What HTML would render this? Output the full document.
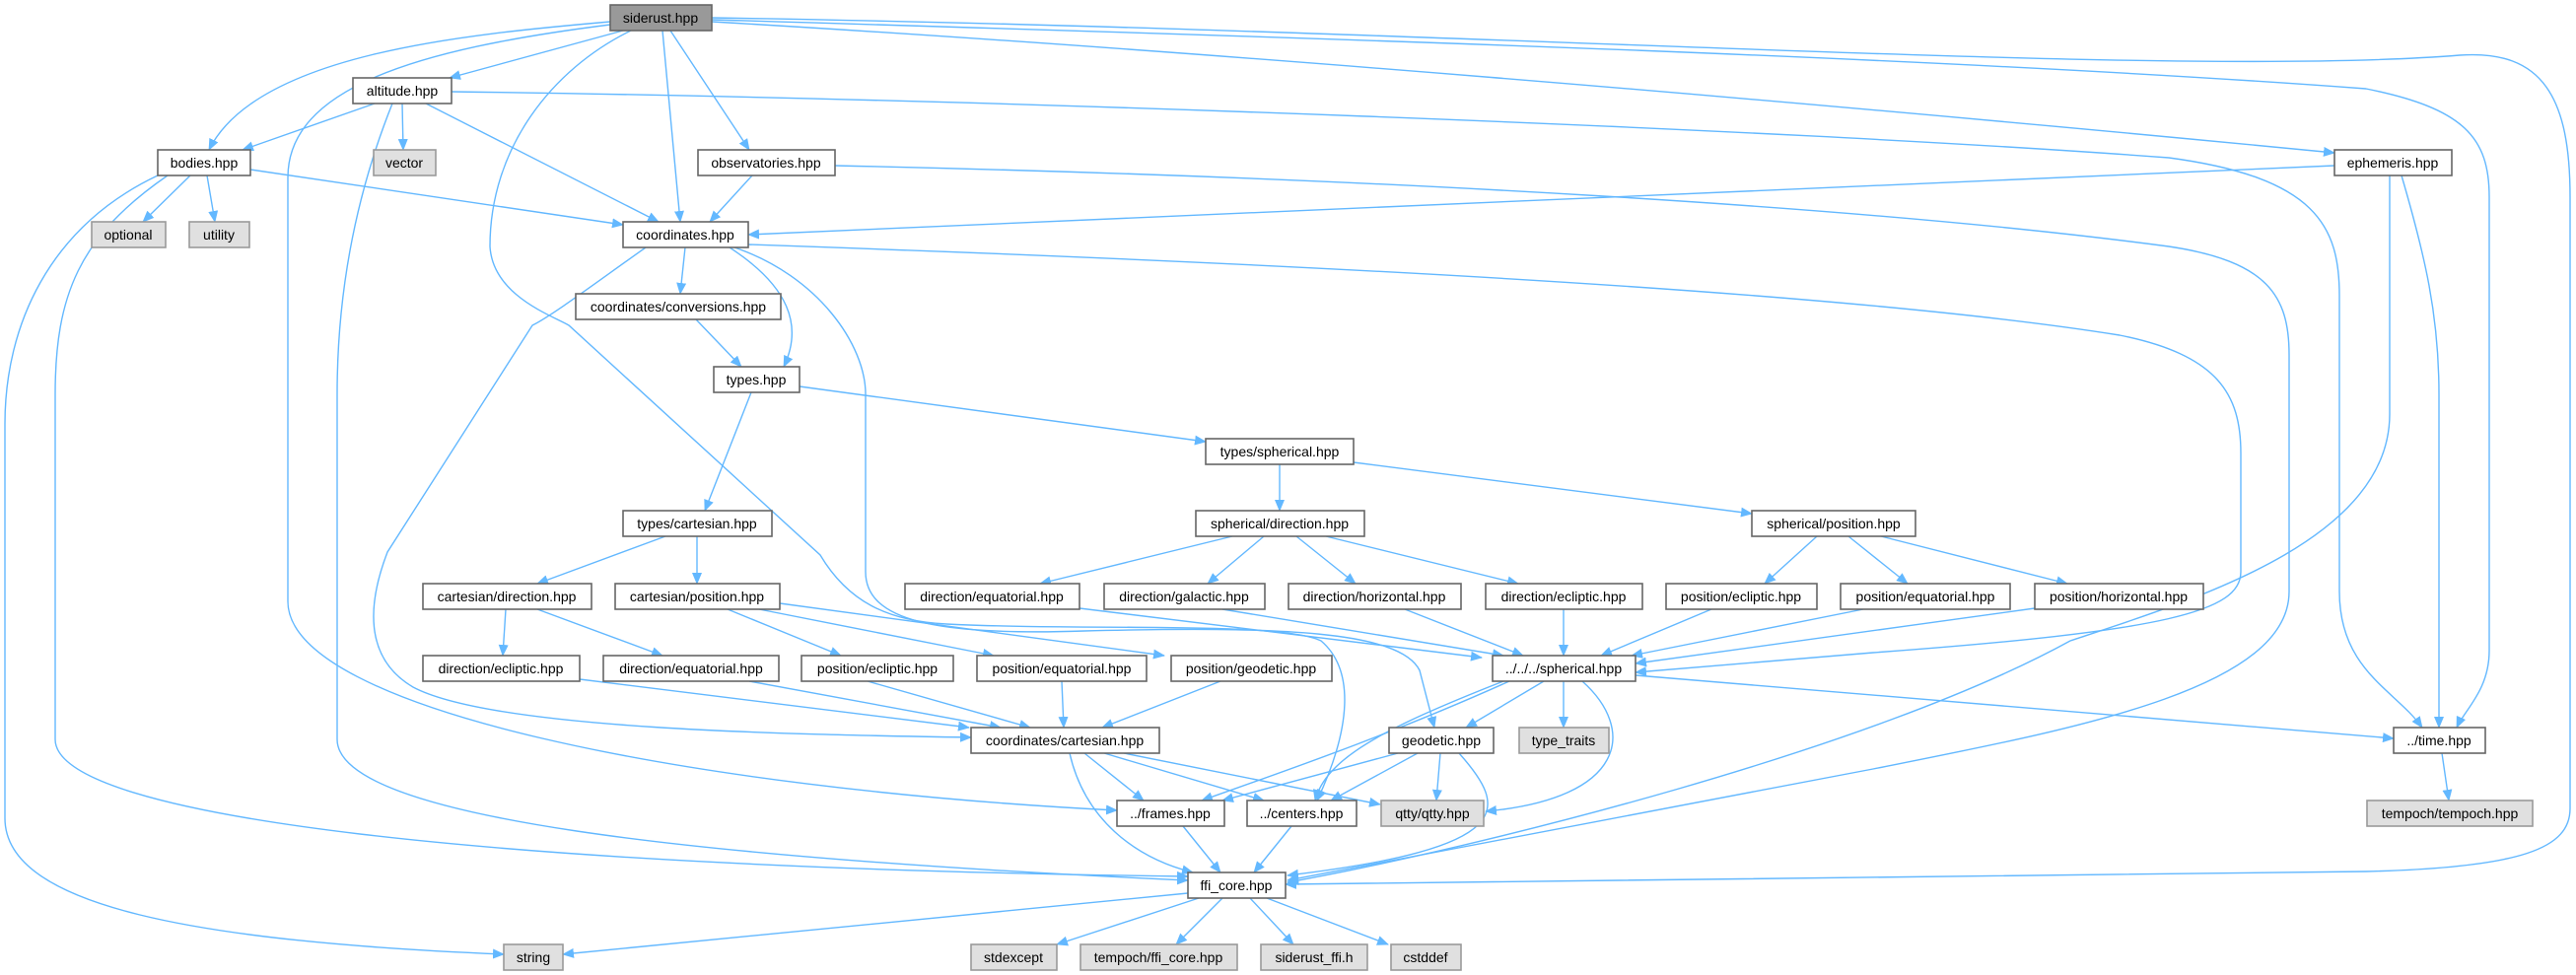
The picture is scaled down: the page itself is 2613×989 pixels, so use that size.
<!DOCTYPE html>
<html><head><meta charset="utf-8"><style>
html,body{margin:0;padding:0;background:#fff;}
svg{display:block;}
text{font-family:"Liberation Sans",sans-serif;font-size:14px;fill:#000;text-anchor:middle;}
.e{fill:none;stroke:#63b8ff;stroke-width:1.4;marker-end:url(#ar);}
.n{fill:#fff;stroke:#666;stroke-width:1.6;}
.g{fill:#e0e0e0;stroke:#999;stroke-width:1.6;}
</style></head><body>
<svg width="2613" height="989" viewBox="0 0 2613 989" xmlns="http://www.w3.org/2000/svg">
<defs><marker id="ar" markerUnits="userSpaceOnUse" markerWidth="12" markerHeight="10" refX="11" refY="5" orient="auto"><path d="M0,0 L12,5 L0,10 z" fill="#63b8ff"/></marker></defs>
<g>
<!-- siderust -->
<path class="e" d="M619,22 C470,35 260,55 212,152"/>
<path class="e" d="M632,31 L456,79"/>
<path class="e" d="M672,31 L690,225"/>
<path class="e" d="M680,31 L760,152"/>
<path class="e" d="M619,25 C420,50 292,90 292,180 L292,610 C292,720 700,800 1133,822"/>
<path class="e" d="M640,31 C560,70 497,150 497,250 C500,300 560,320 577,330 L832,563 C860,610 900,630 960,633 C1100,640 1300,630 1340,650 C1375,680 1370,740 1336,812"/>
<path class="e" d="M722,22 C1200,50 1800,100 2368,155"/>
<path class="e" d="M722,20 C1400,40 2000,60 2400,90 C2500,110 2525,140 2525,200 L2525,660 C2525,700 2500,720 2492,738"/>
<path class="e" d="M722,18 C1500,30 2200,80 2495,56 C2580,50 2607,100 2607,200 L2607,820 C2607,860 2560,880 2400,884 L1304,897"/>
<!-- altitude -->
<path class="e" d="M380,105 L246,152"/>
<path class="e" d="M408,105 L409,152"/>
<path class="e" d="M432,105 L668,225"/>
<path class="e" d="M398,105 C360,200 342,300 342,400 L342,750 C342,830 700,870 1205,893"/>
<path class="e" d="M458,93 C1000,100 1800,130 2200,160 C2350,180 2373,230 2373,300 L2373,600 C2373,680 2430,700 2457,738"/>
<!-- bodies -->
<path class="e" d="M254,172 L632,228"/>
<path class="e" d="M193,178 L145,225"/>
<path class="e" d="M210,178 L218,225"/>
<path class="e" d="M160,178 C50,230 5,330 5,430 L5,830 C5,920 200,955 511,968"/>
<path class="e" d="M170,178 C80,240 56,300 56,400 L56,750 C56,830 500,880 1205,889"/>
<!-- observatories -->
<path class="e" d="M763,178 L720,225"/>
<path class="e" d="M847,168 C1400,180 1900,210 2200,250 C2300,265 2322,300 2322,360 L2322,600 C2322,700 2100,740 1900,780 L1306,893"/>
<!-- ephemeris -->
<path class="e" d="M2368,168 L759,238"/>
<path class="e" d="M2436,178 C2460,260 2474,320 2474,400 L2474,738"/>
<path class="e" d="M2424,178 L2424,420 C2424,550 2220,610 2100,650 C1900,760 1500,860 1306,895"/>
<!-- coordinates -->
<path class="e" d="M695,251 L690,298"/>
<path class="e" d="M740,251 C800,290 815,330 795,372"/>
<path class="e" d="M655,251 C600,290 560,320 540,330 L393,560 C370,620 373,670 419,697 C500,740 800,745 985,748"/>
<path class="e" d="M745,251 C830,280 878,350 878,400 L878,580 C878,630 950,645 1100,640 C1300,635 1420,640 1440,680 L1455,738"/>
<path class="e" d="M759,248 C1400,270 1900,300 2150,340 C2250,360 2273,400 2273,460 L2273,580 C2273,620 2200,640 1900,662 L1659,682"/>
<!-- middle tree -->
<path class="e" d="M706,324 L752,372"/>
<path class="e" d="M762,398 L715,518"/>
<path class="e" d="M811,392 L1223,448"/>
<path class="e" d="M1298,471 L1298,518"/>
<path class="e" d="M1373,469 L1777,521"/>
<path class="e" d="M1250,544 L1055,592"/>
<path class="e" d="M1282,544 L1225,592"/>
<path class="e" d="M1315,544 L1375,592"/>
<path class="e" d="M1345,544 L1540,592"/>
<path class="e" d="M1843,544 L1790,592"/>
<path class="e" d="M1875,544 L1935,592"/>
<path class="e" d="M1908,544 L2097,592"/>
<path class="e" d="M675,544 L545,592"/>
<path class="e" d="M707,544 L707,592"/>
<path class="e" d="M513,618 L510,665"/>
<path class="e" d="M545,618 L672,665"/>
<path class="e" d="M738,618 L853,665"/>
<path class="e" d="M770,618 L1008,665"/>
<path class="e" d="M791,612 L1181,665"/>
<path class="e" d="M1095,617 L1503,667"/>
<path class="e" d="M1240,618 L1525,665"/>
<path class="e" d="M1425,618 L1545,665"/>
<path class="e" d="M1586,618 L1586,665"/>
<path class="e" d="M1736,618 L1624,665"/>
<path class="e" d="M1890,618 L1655,665"/>
<path class="e" d="M2064,617 L1659,673"/>
<path class="e" d="M588,689 L983,738"/>
<path class="e" d="M760,691 L1015,738"/>
<path class="e" d="M880,691 L1045,738"/>
<path class="e" d="M1077,691 L1079,738"/>
<path class="e" d="M1238,691 L1118,738"/>
<!-- spherical.hpp -->
<path class="e" d="M1531,691 C1400,750 1280,790 1219,812"/>
<path class="e" d="M1525,691 C1400,740 1345,770 1334,812"/>
<path class="e" d="M1566,691 L1487,738"/>
<path class="e" d="M1586,691 L1586,738"/>
<path class="e" d="M1605,691 C1660,740 1650,810 1507,823"/>
<path class="e" d="M1659,685 L2428,749"/>
<!-- coordinates/cartesian, geodetic -->
<path class="e" d="M1100,764 L1160,812"/>
<path class="e" d="M1120,764 L1282,812"/>
<path class="e" d="M1140,764 L1400,816"/>
<path class="e" d="M1085,764 C1100,830 1150,870 1210,885"/>
<path class="e" d="M1418,764 L1240,812"/>
<path class="e" d="M1438,764 L1350,812"/>
<path class="e" d="M1461,764 L1457,812"/>
<path class="e" d="M1480,764 C1530,820 1540,860 1306,888"/>
<path class="e" d="M1200,838 L1238,885"/>
<path class="e" d="M1310,838 L1272,885"/>
<!-- ffi_core -->
<path class="e" d="M1205,906 L571,968"/>
<path class="e" d="M1216,911 L1072,958"/>
<path class="e" d="M1240,911 L1193,958"/>
<path class="e" d="M1268,911 L1312,958"/>
<path class="e" d="M1285,911 L1408,958"/>
<path class="e" d="M2477,764 L2484,812"/>
</g>
<g>
<rect x="619" y="5" width="103" height="26" fill="#999" stroke="#666" stroke-width="1.6"/><text x="670" y="23">siderust.hpp</text>
<rect class="n" x="358" y="79" width="100" height="26"/><text x="408" y="97">altitude.hpp</text>
<rect class="n" x="160" y="152" width="94" height="26"/><text x="207" y="170">bodies.hpp</text>
<rect class="g" x="379" y="152" width="63" height="26"/><text x="410" y="170">vector</text>
<rect class="n" x="708" y="152" width="139" height="26"/><text x="777" y="170">observatories.hpp</text>
<rect class="n" x="2368" y="152" width="119" height="26"/><text x="2427" y="170">ephemeris.hpp</text>
<rect class="g" x="93" y="225" width="75" height="26"/><text x="130" y="243">optional</text>
<rect class="g" x="192" y="225" width="61" height="26"/><text x="222" y="243">utility</text>
<rect class="n" x="632" y="225" width="127" height="26"/><text x="695" y="243">coordinates.hpp</text>
<rect class="n" x="584" y="298" width="208" height="26"/><text x="688" y="316">coordinates/conversions.hpp</text>
<rect class="n" x="724" y="372" width="87" height="26"/><text x="767" y="390">types.hpp</text>
<rect class="n" x="1223" y="445" width="150" height="26"/><text x="1298" y="463">types/spherical.hpp</text>
<rect class="n" x="632" y="518" width="151" height="26"/><text x="707" y="536">types/cartesian.hpp</text>
<rect class="n" x="1213" y="518" width="171" height="26"/><text x="1298" y="536">spherical/direction.hpp</text>
<rect class="n" x="1777" y="518" width="166" height="26"/><text x="1860" y="536">spherical/position.hpp</text>
<rect class="n" x="429" y="592" width="171" height="26"/><text x="514" y="610">cartesian/direction.hpp</text>
<rect class="n" x="624" y="592" width="167" height="26"/><text x="707" y="610">cartesian/position.hpp</text>
<rect class="n" x="918" y="592" width="177" height="26"/><text x="1006" y="610">direction/equatorial.hpp</text>
<rect class="n" x="1120" y="592" width="163" height="26"/><text x="1201" y="610">direction/galactic.hpp</text>
<rect class="n" x="1307" y="592" width="175" height="26"/><text x="1394" y="610">direction/horizontal.hpp</text>
<rect class="n" x="1507" y="592" width="159" height="26"/><text x="1586" y="610">direction/ecliptic.hpp</text>
<rect class="n" x="1690" y="592" width="153" height="26"/><text x="1766" y="610">position/ecliptic.hpp</text>
<rect class="n" x="1867" y="592" width="172" height="26"/><text x="1953" y="610">position/equatorial.hpp</text>
<rect class="n" x="2064" y="592" width="171" height="26"/><text x="2149" y="610">position/horizontal.hpp</text>
<rect class="n" x="429" y="665" width="159" height="26"/><text x="508" y="683">direction/ecliptic.hpp</text>
<rect class="n" x="612" y="665" width="178" height="26"/><text x="701" y="683">direction/equatorial.hpp</text>
<rect class="n" x="813" y="665" width="154" height="26"/><text x="890" y="683">position/ecliptic.hpp</text>
<rect class="n" x="991" y="665" width="172" height="26"/><text x="1077" y="683">position/equatorial.hpp</text>
<rect class="n" x="1188" y="665" width="163" height="26"/><text x="1269" y="683">position/geodetic.hpp</text>
<rect class="n" x="1514" y="665" width="145" height="26"/><text x="1586" y="683">../../../spherical.hpp</text>
<rect class="n" x="985" y="738" width="191" height="26"/><text x="1080" y="756">coordinates/cartesian.hpp</text>
<rect class="n" x="1409" y="738" width="106" height="26"/><text x="1462" y="756">geodetic.hpp</text>
<rect class="g" x="1541" y="738" width="91" height="26"/><text x="1586" y="756">type_traits</text>
<rect class="n" x="2428" y="738" width="93" height="26"/><text x="2474" y="756">../time.hpp</text>
<rect class="n" x="1133" y="812" width="109" height="26"/><text x="1187" y="830">../frames.hpp</text>
<rect class="n" x="1265" y="812" width="111" height="26"/><text x="1320" y="830">../centers.hpp</text>
<rect class="g" x="1401" y="812" width="104" height="26"/><text x="1453" y="830">qtty/qtty.hpp</text>
<rect class="g" x="2401" y="812" width="168" height="26"/><text x="2485" y="830">tempoch/tempoch.hpp</text>
<rect class="n" x="1205" y="885" width="99" height="26"/><text x="1254" y="903">ffi_core.hpp</text>
<rect class="g" x="511" y="958" width="60" height="26"/><text x="541" y="976">string</text>
<rect class="g" x="985" y="958" width="87" height="26"/><text x="1028" y="976">stdexcept</text>
<rect class="g" x="1096" y="958" width="159" height="26"/><text x="1175" y="976">tempoch/ffi_core.hpp</text>
<rect class="g" x="1279" y="958" width="108" height="26"/><text x="1333" y="976">siderust_ffi.h</text>
<rect class="g" x="1411" y="958" width="71" height="26"/><text x="1446" y="976">cstddef</text>
</g>
</svg>
</body></html>
